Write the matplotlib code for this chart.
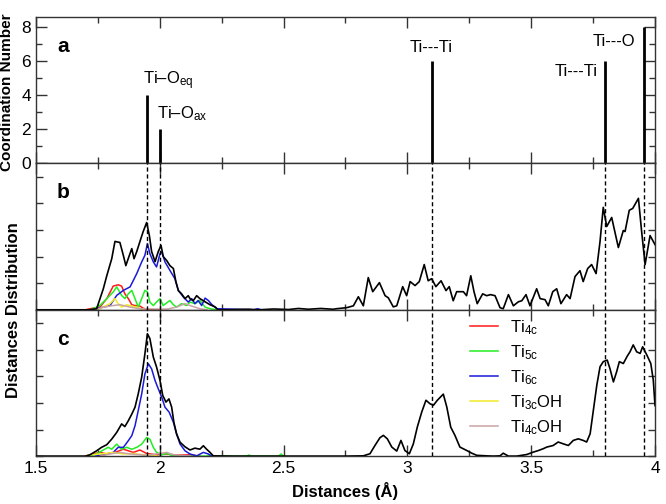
import matplotlib
matplotlib.use("Agg")
import matplotlib.pyplot as plt
from matplotlib.ticker import MultipleLocator, NullFormatter

plt.rcParams['font.family'] = ['Liberation Sans', 'DejaVu Sans']
plt.rcParams['mathtext.fontset'] = 'custom'
plt.rcParams['mathtext.rm'] = 'Liberation Sans'
plt.rcParams['mathtext.it'] = 'Liberation Sans'

# panel a: coordination sticks
cn_pos = [1.95, 2.00, 3.10, 3.80, 3.955]
cn_val = [4, 2, 6, 6, 8]
cn_text = ['Ti–O$_{\\rm eq}$', 'Ti–O$_{\\rm ax}$', 'Ti---Ti', 'Ti---Ti', 'Ti---O']
cn_text_x = [1.932, 1.989, 3.010, 3.596, 3.750]
cn_text_y = [4.64, 2.67, 6.55, 5.16, 6.90]

x_ticks = [1.5, 2.0, 2.5, 3.0, 3.5, 4.0]
x_tick_labels = ['1.5', '2', '2.5', '3', '3.5', '4']

# panel b: total distribution (black)
b_tot_x = [1.50, 1.718, 1.745, 1.772, 1.786, 1.806, 1.819, 1.839, 1.853, 1.863, 1.877, 1.887,
           1.896, 1.907, 1.920, 1.933, 1.947, 1.958, 1.967, 1.981, 1.994, 2.005, 2.014, 2.028,
           2.041, 2.055, 2.065, 2.075, 2.088, 2.102, 2.115, 2.122, 2.135, 2.149, 2.162, 2.183,
           2.203, 2.223, 2.236, 2.30, 2.36, 2.40, 2.46, 2.52, 2.56, 2.60, 2.65, 2.70,
           2.714, 2.755, 2.782, 2.802, 2.822, 2.842, 2.860, 2.887, 2.910, 2.923, 2.943, 2.957,
           2.981, 2.997, 3.011, 3.031, 3.048, 3.068, 3.084, 3.098, 3.115, 3.136, 3.156, 3.169,
           3.185, 3.199, 3.226, 3.239, 3.256, 3.269, 3.282, 3.304, 3.320, 3.336, 3.354, 3.374,
           3.387, 3.408, 3.428, 3.448, 3.462, 3.479, 3.495, 3.522, 3.536, 3.556, 3.569, 3.587,
           3.603, 3.620, 3.643, 3.657, 3.677, 3.697, 3.710, 3.728, 3.744, 3.762, 3.778, 3.791,
           3.805, 3.825, 3.852, 3.872, 3.879, 3.896, 3.910, 3.933, 3.946, 3.960, 3.980, 4.000]
b_tot_y = [0, 0, 0.04, 0.79, 1.28, 1.92, 2.57, 2.53, 2.04, 1.66, 2.04, 2.30,
           1.92, 2.19, 2.57, 2.94, 3.28, 2.79, 2.19, 1.81, 2.19, 2.42, 2.00, 1.85,
           1.66, 1.55, 1.06, 0.72, 0.60, 0.42, 0.53, 0.42, 0.34, 0.53, 0.42, 0.30,
           0.19, 0.11, 0, 0.01, 0.02, 0, 0.03, 0.01, 0.05, 0.02, 0.05, 0.02,
           0.04, 0.08, 0.15, 0.49, 0.15, 1.21, 0.68, 1.02, 0.53, 0.45, 0.11, 0.15,
           0.87, 0.53, 1.06, 0.91, 1.06, 1.70, 1.09, 1.17, 0.87, 1.09, 0.72, 0.87,
           0.34, 0.68, 0.68, 0.53, 1.28, 0.68, 0.23, 0.60, 0.53, 0.57, 0.53, 0.08,
           0.04, 0.57, 0.15, 0.30, 0.34, 0.57, 0.15, 0.79, 0.42, 0.38, 0.15, 0.68,
           0.79, 0.23, 0.57, 0.42, 1.25, 1.47, 1.06, 1.55, 1.70, 1.36, 2.57, 3.85,
           3.13, 3.47, 2.34, 2.98, 2.94, 3.74, 3.81, 4.19, 2.94, 1.70, 2.79, 2.45]

b_4c_x = [1.70, 1.718, 1.758, 1.786, 1.812, 1.832, 1.846, 1.859, 1.873, 1.887, 1.900, 1.920, 1.933, 1.954, 2.0]
b_4c_y = [0, 0.04, 0.10, 0.42, 0.89, 0.94, 0.89, 0.60, 0.42, 0.19, 0.16, 0.14, 0.06, 0, 0]
b_5c_x = [1.72, 1.758, 1.786, 1.812, 1.826, 1.846, 1.859, 1.873, 1.887, 1.900, 1.913, 1.927, 1.940,
          1.950, 1.960, 1.974, 1.987, 2.001, 2.014, 2.028, 2.041, 2.055, 2.068, 2.088, 2.109,
          2.122, 2.142, 2.162, 2.183, 2.203, 2.23]
b_5c_y = [0, 0.16, 0.42, 0.67, 0.86, 0.54, 0.42, 0.60, 0.73, 0.42, 0.10, 0.42, 0.73,
          0.67, 0.29, 0.16, 0.29, 0.42, 0.16, 0.26, 0.35, 0.19, 0.10, 0.23, 0.16,
          0.29, 0.23, 0.35, 0.10, 0.04, 0]
b_6c_x = [1.72, 1.745, 1.799, 1.826, 1.853, 1.880, 1.907, 1.927, 1.940, 1.950, 1.960, 1.974, 1.987,
          2.001, 2.008, 2.021, 2.041, 2.061, 2.075, 2.095, 2.115, 2.129, 2.142, 2.155, 2.169,
          2.183, 2.196, 2.210, 2.230, 2.38, 2.395, 2.41]
b_6c_y = [0, 0.04, 0.16, 0.54, 0.73, 0.86, 1.36, 1.80, 2.05, 2.49, 2.11, 1.80, 1.61,
          2.11, 2.18, 1.80, 1.48, 1.17, 0.73, 0.48, 0.29, 0.42, 0.23, 0.35, 0.16,
          0.44, 0.35, 0.20, 0.04, 0, 0.04, 0]
b_3oh_x = [1.73, 1.758, 1.799, 1.819, 1.832, 1.846, 1.866, 1.887, 1.907, 1.933]
b_3oh_y = [0, 0.04, 0.23, 0.42, 0.23, 0.10, 0.19, 0.14, 0.10, 0]
b_4oh_x = [1.74, 1.772, 1.812, 1.839, 1.880, 1.920, 1.98, 2.03, 2.068, 2.102, 2.122, 2.162, 2.19]
b_4oh_y = [0, 0.10, 0.16, 0.19, 0.10, 0.04, 0.03, 0.03, 0.10, 0.23, 0.16, 0.04, 0]

# panel c
c_tot_x = [1.50, 1.70, 1.718, 1.745, 1.765, 1.786, 1.806, 1.826, 1.846, 1.859, 1.873, 1.887, 1.900,
           1.913, 1.927, 1.940, 1.950, 1.960, 1.974, 1.987, 2.001, 2.012, 2.025, 2.037, 2.048,
           2.057, 2.068, 2.082, 2.102, 2.122, 2.142, 2.162, 2.176, 2.189, 2.203, 2.216, 2.30,
           2.45, 2.60, 2.75, 2.822, 2.849, 2.869, 2.889, 2.903, 2.919, 2.937, 2.957, 2.974,
           2.990, 3.008, 3.024, 3.040, 3.058, 3.075, 3.091, 3.105, 3.121, 3.145, 3.159, 3.175,
           3.192, 3.212, 3.240, 3.260, 3.280, 3.320, 3.347, 3.374, 3.387, 3.408, 3.441, 3.482,
           3.508, 3.529, 3.549, 3.563, 3.589, 3.609, 3.630, 3.650, 3.670, 3.690, 3.710, 3.724,
           3.738, 3.751, 3.765, 3.778, 3.791, 3.807, 3.818, 3.832, 3.845, 3.856, 3.872, 3.888,
           3.899, 3.912, 3.926, 3.940, 3.950, 3.967, 3.983, 3.993, 4.000]
c_tot_y = [0, 0, 0.05, 0.20, 0.33, 0.43, 0.64, 0.89, 1.21, 1.11, 1.33, 1.58, 1.84,
           2.34, 2.97, 3.85, 4.60, 4.42, 3.72, 3.35, 2.84, 2.28, 2.03, 2.15, 1.84,
           1.27, 0.83, 0.52, 0.35, 0.23, 0.30, 0.26, 0.39, 0.26, 0.14, 0.01, 0,
           0, 0, 0, 0.01, 0.09, 0.40, 0.69, 0.78, 0.65, 0.34, 0.19, 0.59,
           0.21, 0.09, 0.46, 1.09, 1.66, 2.10, 1.97, 1.91, 2.10, 2.33, 1.85, 1.09,
           0.78, 0.34, 0.21, 0.11, 0.03, 0.01, 0, 0.01, 0.11, 0, 0, 0.06,
           0.15, 0.21, 0.28, 0.34, 0.40, 0.53, 0.46, 0.40, 0.59, 0.65, 0.59, 0.53,
           0.84, 1.72, 2.67, 3.36, 3.55, 3.61, 3.29, 2.79, 3.17, 3.55, 3.48, 3.76,
           3.92, 4.18, 3.92, 3.86, 4.11, 3.80, 3.48, 2.86, 1.90]

c_4c_x = [1.70, 1.718, 1.758, 1.786, 1.819, 1.853, 1.873, 1.893, 1.920, 1.947, 1.987, 2.028, 2.068, 2.122, 2.162]
c_4c_y = [0, 0.05, 0.14, 0.08, 0.14, 0.26, 0.20, 0.14, 0.23, 0.10, 0.05, 0.08, 0.04, 0.05, 0]
c_5c_x = [1.72, 1.745, 1.772, 1.792, 1.806, 1.826, 1.846, 1.866, 1.887, 1.907, 1.927, 1.947, 1.960,
          1.974, 1.987, 2.008, 2.028, 2.055, 2.19, 2.20, 2.21, 2.35, 2.36, 2.37, 2.48, 2.49, 2.50]
c_5c_y = [0, 0.08, 0.23, 0.33, 0.26, 0.45, 0.26, 0.33, 0.26, 0.33, 0.45, 0.70, 0.64,
          0.33, 0.14, 0.05, 0.10, 0.01, 0, 0.04, 0, 0, 0.04, 0, 0, 0.08, 0]
c_6c_x = [1.74, 1.772, 1.812, 1.832, 1.853, 1.873, 1.887, 1.900, 1.913, 1.927, 1.940, 1.954, 1.967,
          1.981, 1.994, 2.008, 2.021, 2.038, 2.055, 2.068, 2.082, 2.102, 2.122, 2.149, 2.176,
          2.196, 2.210]
c_6c_y = [0, 0.05, 0.14, 0.33, 0.33, 0.58, 0.77, 1.14, 1.71, 2.34, 3.09, 3.47, 3.28,
          2.84, 2.53, 2.21, 1.84, 1.65, 1.27, 0.83, 0.45, 0.20, 0.08, 0.01, 0.14,
          0.08, 0]
c_3oh_x = [1.70, 1.718, 1.772, 1.812, 1.853, 1.893, 1.933, 1.987]
c_3oh_y = [0, 0.05, 0.09, 0.14, 0.08, 0.10, 0.05, 0.01]
c_4oh_x = [1.76, 1.799, 1.839, 1.880, 1.95, 2.028, 2.055, 2.122]
c_4oh_y = [0, 0.08, 0.14, 0.08, 0.03, 0.14, 0.05, 0.01]

legend_labels = ['Ti$_{\\rm 4c}$', 'Ti$_{\\rm 5c}$', 'Ti$_{\\rm 6c}$', 'Ti$_{\\rm 3c}$OH', 'Ti$_{\\rm 4c}$OH']
colors = ['#ff1a1a', '#22ee22', '#1a1ad8', '#f2ea2a', '#c9a3a3']

fig, (ax1, ax2, ax3) = plt.subplots(3, 1, figsize=(6.66, 5.04), dpi=100, sharex=True)
fig.subplots_adjust(left=0.054, right=0.9835, top=0.966, bottom=0.095, hspace=0)

# a
ax1.vlines(cn_pos, 0, cn_val, color='black', lw=2.0)
for t, tx, ty in zip(cn_text, cn_text_x, cn_text_y):
    ax1.text(tx, ty, t, fontsize=12, ha='left', va='baseline')
ax1.set_ylim(0, 8.6)
ax1.yaxis.set_major_locator(MultipleLocator(2))
ax1.yaxis.set_minor_locator(MultipleLocator(1))
ax1.set_ylabel('Coordination Number', fontsize=11, fontweight='bold', labelpad=2)
ax1.yaxis.set_label_coords(-0.0355, 0.49)

# b and c
b_series = [(b_4c_x, b_4c_y), (b_5c_x, b_5c_y), (b_6c_x, b_6c_y), (b_3oh_x, b_3oh_y), (b_4oh_x, b_4oh_y)]
c_series = [(c_4c_x, c_4c_y), (c_5c_x, c_5c_y), (c_6c_x, c_6c_y), (c_3oh_x, c_3oh_y), (c_4oh_x, c_4oh_y)]

ax2.plot(b_tot_x, b_tot_y, color='black', lw=1.2, zorder=3)
for (xs, ys), col in zip(b_series, colors):
    ax2.plot(xs, ys, color=col, lw=1.1)

ax3.plot(c_tot_x, c_tot_y, color='black', lw=1.2, zorder=3)
for (xs, ys), col, lab in zip(c_series, colors, legend_labels):
    ax3.plot(xs, ys, color=col, lw=1.1, label=lab)

for ax in (ax2, ax3):
    for p in cn_pos:
        ax.axvline(p, color='black', lw=1.0, ls=(0, (3, 2)), zorder=4)
    ax.set_ylim(0, 5.5)
    ax.yaxis.set_major_locator(MultipleLocator(1))
    ax.yaxis.set_major_formatter(NullFormatter())

leg = ax3.legend(loc='upper left', bbox_to_anchor=(0.69, 0.99), frameon=False, fontsize=12,
                 handlelength=1.7, handletextpad=0.7, labelspacing=0.38, borderaxespad=0)

for ax, letter in zip((ax1, ax2, ax3), ['a', 'b', 'c']):
    ax.text(0.034, 0.80, letter, transform=ax.transAxes, fontsize=15, fontweight='bold', va='center')
    ax.set_xlim(1.5, 4.0)
    ax.set_xticks(x_ticks)
    ax.xaxis.set_minor_locator(MultipleLocator(0.25))
    ax.tick_params(which='both', direction='in', top=True, right=True, labelsize=12.5, color='#333333')
    ax.tick_params(which='major', length=8, width=1.0)
    ax.tick_params(which='minor', length=4, width=1.0)
    for s in ax.spines.values():
        s.set_linewidth(1.0)
        s.set_color('#333333')

ax2.tick_params(axis='y', which='major', length=5)
ax3.tick_params(axis='y', which='major', length=5)

ax3.set_xticks(x_ticks, labels=x_tick_labels)
ax3.set_xlabel('Distances (Å)', fontsize=12, fontweight='bold', labelpad=4)
fig.text(0.02, ax2.get_position().y0, 'Distances Distribution',
         rotation=90, fontsize=12, fontweight='bold', ha='center', va='center')

fig.savefig('out.png', dpi=100)
